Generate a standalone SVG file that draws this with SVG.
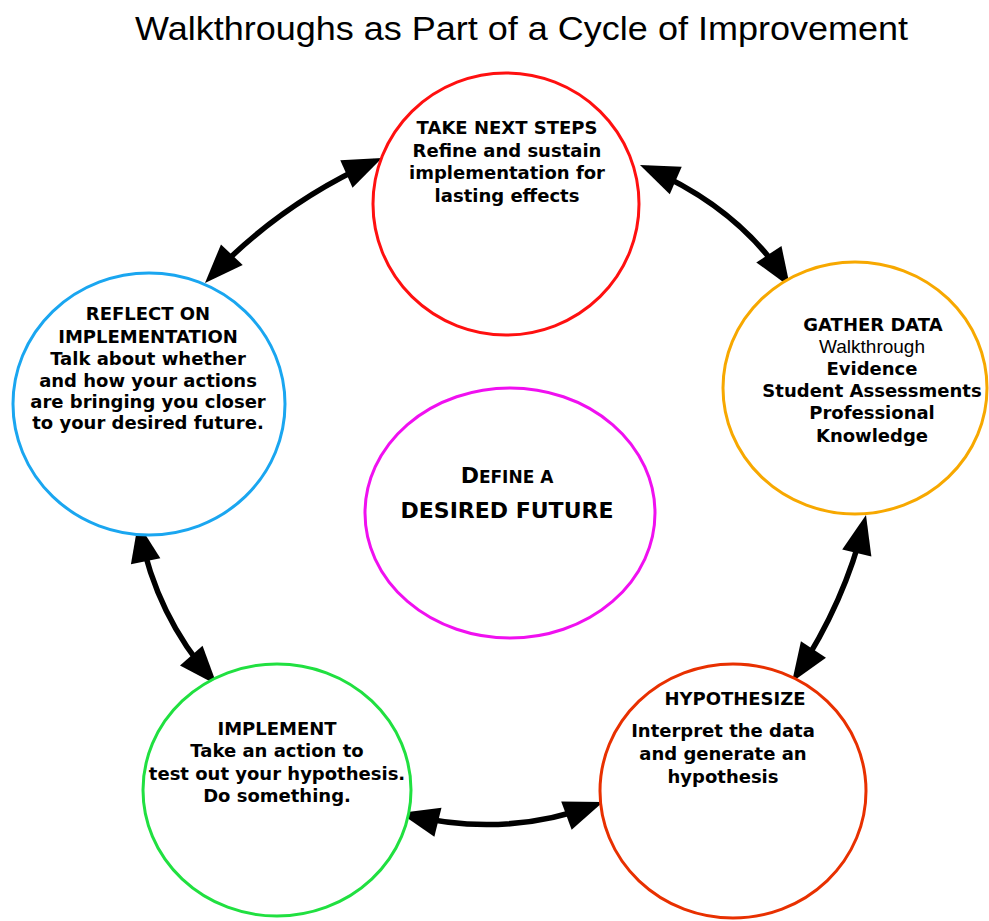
<svg xmlns="http://www.w3.org/2000/svg" width="989" height="921" viewBox="0 0 989 921">
<style>
.bg{fill:#ffffff}
.node{fill:#ffffff;stroke-width:3}
.t{font-family:"DejaVu Sans","Noto Sans",sans-serif;font-weight:bold;font-size:18px;fill:#000;text-anchor:middle}
.big{font-size:22px}
.w{font-family:"Liberation Sans",Arial,sans-serif;font-weight:normal;font-size:19px;fill:#000;text-anchor:middle}
.title{font-family:"Liberation Sans",Arial,sans-serif;font-size:34px;fill:#000;text-anchor:middle}
.conn{fill:none;stroke:#000;stroke-width:5.5;marker-start:url(#ah);marker-end:url(#ah)}
</style>
<defs>
<marker id="ah" viewBox="-2 -18 44 36" markerWidth="44" markerHeight="36" refX="31" refY="0" markerUnits="userSpaceOnUse" orient="auto-start-reverse">
<path d="M0,-15 L39,0 L0,15 z" fill="#000"/>
</marker>
</defs>
<rect class="bg" x="0" y="0" width="989" height="921"/>
<text class="title" x="521.5" y="40" textLength="773" lengthAdjust="spacingAndGlyphs">Walkthroughs as Part of a Cycle of Improvement</text>

<g id="connectors">
<path class="conn" d="M374.7,161.3 Q280.5,203.5 210.5,277.2"/>
<path class="conn" d="M647.3,168.2 Q739,208 785.7,280.3"/>
<path class="conn" d="M864.1,522.8 Q845,601.5 796.4,675.3"/>
<path class="conn" d="M407.8,814.9 Q504.5,838.5 595.5,804.8"/>
<path class="conn" d="M139.6,530.8 Q156.5,616 211.7,679"/>
</g>

<g id="take-next-steps">
<ellipse class="node" cx="506" cy="204" rx="133" ry="131" stroke="#ff1010"/>
<text class="t" x="507" y="134">TAKE NEXT STEPS</text>
<text class="t" x="507" y="157">Refine and sustain</text>
<text class="t" x="507" y="179">implementation for</text>
<text class="t" x="507" y="202">lasting effects</text>
</g>

<g id="gather-data">
<ellipse class="node" cx="855" cy="388" rx="132" ry="126" stroke="#f7a800"/>
<text class="t" x="873" y="331">GATHER DATA</text>
<text class="w" x="872" y="353">Walkthrough</text>
<text class="t" x="872" y="375">Evidence</text>
<text class="t" x="872" y="397">Student Assessments</text>
<text class="t" x="872" y="419">Professional</text>
<text class="t" x="872" y="442">Knowledge</text>
</g>

<g id="reflect">
<ellipse class="node" cx="149" cy="404" rx="136" ry="131" stroke="#1aa6f0"/>
<text class="t" x="148" y="320">REFLECT ON</text>
<text class="t" x="148" y="343">IMPLEMENTATION</text>
<text class="t" x="148" y="365">Talk about whether</text>
<text class="t" x="148" y="387">and how your actions</text>
<text class="t" x="148" y="408">are bringing you closer</text>
<text class="t" x="148" y="429">to your desired future.</text>
</g>

<g id="define-future">
<ellipse class="node" cx="510" cy="513" rx="145" ry="125" stroke="#f010f0"/>
<text class="t" x="507" y="483"><tspan class="big">D</tspan><tspan style="font-size:17px">EFINE A</tspan></text>
<text class="t big" x="507" y="518">DESIRED FUTURE</text>
</g>

<g id="implement">
<ellipse class="node" cx="277" cy="790" rx="134" ry="126" stroke="#20e040"/>
<text class="t" x="277" y="735">IMPLEMENT</text>
<text class="t" x="277" y="757">Take an action to</text>
<text class="t" x="277" y="780">test out your hypothesis.</text>
<text class="t" x="277" y="802">Do something.</text>
</g>

<g id="hypothesize">
<ellipse class="node" cx="733" cy="791" rx="133" ry="127" stroke="#e83000"/>
<text class="t" x="735" y="705">HYPOTHESIZE</text>
<text class="t" x="723" y="737">Interpret the data</text>
<text class="t" x="723" y="760">and generate an</text>
<text class="t" x="723" y="783">hypothesis</text>
</g>
</svg>
